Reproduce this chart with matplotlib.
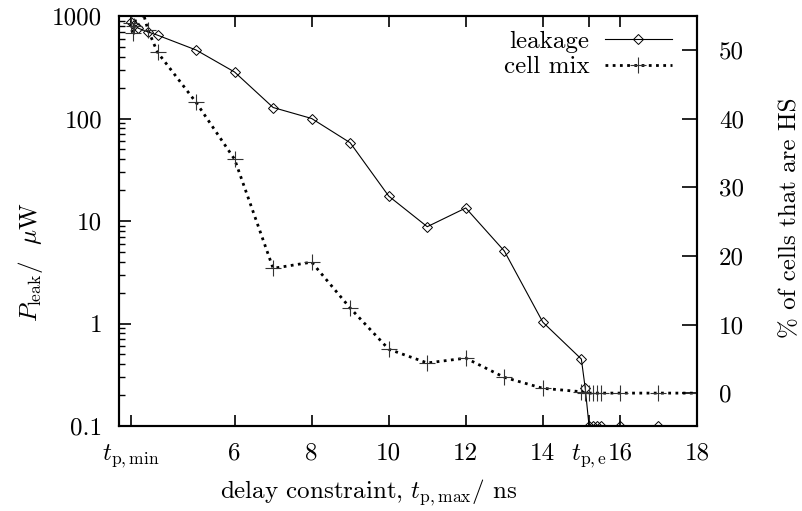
import numpy as np
import matplotlib.pyplot as plt
from matplotlib.ticker import FixedLocator, LogLocator, NullFormatter

plt.rcParams['font.family'] = ['cmr10', 'DejaVu Serif']
plt.rcParams['mathtext.fontset'] = 'cm'
plt.rcParams['axes.unicode_minus'] = False
plt.rcParams['font.size'] = 18

# leakage power (left axis, uW)
leak_x = [3.3, 3.4, 3.5, 3.75, 4, 5, 6, 7, 8, 9, 10, 11, 12, 13, 14, 15, 15.1,
          15.2, 15.3, 15.4, 15.5, 16, 17]
leak_y = [880, 820, 760, 700, 650, 466, 284, 128, 100, 58, 17.5, 8.8, 13.4, 5.1,
          1.03, 0.45, 0.235, 0.1, 0.1, 0.1, 0.1, 0.1, 0.1]

# percentage of HS cells (right axis)
mix_x = [3.3, 3.35, 3.4, 3.5, 3.6, 3.75, 4, 5, 6, 7, 8, 9, 10, 11, 12, 13, 14,
         15, 15.1, 15.2, 15.3, 15.4, 15.5, 16, 17, 18]
mix_y = [54, 52.5, 53.5, 57, 56, 53, 49.7, 42.4, 34.1, 18.2, 19.1, 12.4, 6.4,
         4.4, 5.1, 2.3, 0.7, 0.2, 0, 0, 0, 0, 0, 0, 0, 0]

xtick_pos = [3.3, 6, 8, 10, 12, 14, 15.2, 16, 18]
xtick_lab = [r'$t_{\rm p,min}$', '6', '8', '10', '12', '14', r'$t_{\rm p,e}$', '16', '18']
ytick_pos = [0.1, 1, 10, 100, 1000]
ytick_lab = ['0.1', '1', '10', '100', '1000']

fig = plt.figure(figsize=(8.02, 5.11), dpi=100)
ax = fig.add_axes([0.1484, 0.1663, 0.7206, 0.8024])
ax2 = ax.twinx()

l1, = ax.plot(leak_x, leak_y, color='black', lw=0.8, marker='D', ms=5.5,
              mfc='none', mec='black', mew=0.7, label='leakage')
l2, = ax2.plot(mix_x, mix_y, color='black', lw=2.0, ls=(0, (1, 1.6)),
               marker='+', ms=11, mec='#333333', mew=0.8, label='cell mix')

ax.set_yscale('log')
ax.set_xlim(3, 18)
ax.set_ylim(0.1, 1000)
ax2.set_ylim(-4.8, 55)

ax.set_xticks(xtick_pos)
ax.set_xticklabels(xtick_lab)
ax.yaxis.set_major_locator(FixedLocator(ytick_pos))
ax.set_yticklabels(ytick_lab)
ax.yaxis.set_minor_locator(LogLocator(base=10, subs=np.arange(2, 10)))
ax.yaxis.set_minor_formatter(NullFormatter())
ax2.set_yticks([0, 10, 20, 30, 40, 50])

ax.tick_params(axis='x', direction='in', top=True, length=8, width=1.2, pad=12)
ax.tick_params(axis='y', which='major', direction='in', right=False, length=8.5, width=1.2, pad=12)
ax.tick_params(axis='y', which='minor', direction='in', right=False, length=4.3, width=1.0)
ax2.tick_params(axis='y', direction='in', length=10.5, width=1.2, pad=16)

for a in (ax, ax2):
    for s in a.spines.values():
        s.set_linewidth(1.5)

ax.set_xlabel(r'delay constraint, $t_{\rm p,max}$/ ns', va='center', ha='center')
ax.xaxis.set_label_coords(0.4325, -0.163)
ax.set_ylabel(r'$P_{\rm leak}$/  $\mu$W', va='center', ha='center')
ax.yaxis.set_label_coords(-0.154, 0.40)
ax2.set_ylabel('% of cells that are HS', va='center', ha='center')
ax2.yaxis.set_label_coords(1.161, 0.507)

ax2.legend([l1, l2], ['leakage', 'cell mix'], loc='upper right', frameon=False,
           markerfirst=False, handlelength=2.7, handletextpad=0.6,
           labelspacing=0.12, borderpad=0, borderaxespad=0,
           bbox_to_anchor=(0.957, 0.965), fontsize=18)

fig.savefig('out.png', dpi=100)
